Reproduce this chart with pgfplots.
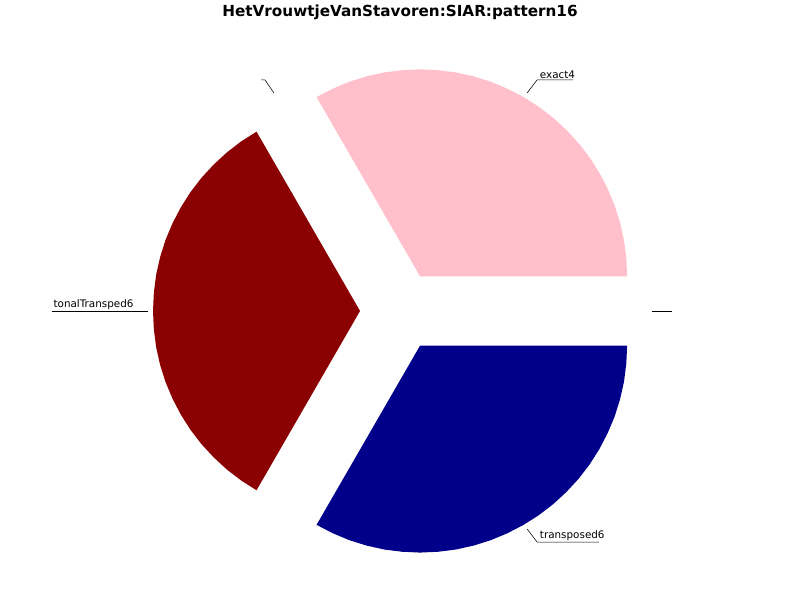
\documentclass[border=0pt]{standalone}
\usepackage{pgfplots}
\pgfplotsset{compat=1.18}
\usepackage{fontspec}
\setmainfont{DejaVu Sans}
\begin{document}
\begin{tikzpicture}
\begin{axis}[width=8in,height=6in,scale only axis,hide axis,
 xmin=-1.932,xmax=1.932,ymin=-1.396,ymax=1.502,clip=false]
% exact4: 0..120 deg, explode offset (0.097,0.167)
\addplot[fill={rgb,255:red,255;green,192;blue,203},draw=none] table[x expr=\thisrowno{0}+0.097,y expr=\thisrowno{1}+0.167]{
0 0
1 0
.996 .087
.985 .174
.966 .259
.940 .342
.906 .423
.866 .5
.819 .574
.766 .643
.707 .707
.643 .766
.574 .819
.5 .866
.423 .906
.342 .940
.259 .966
.174 .985
.087 .996
0 1
-.087 .996
-.174 .985
-.259 .966
-.342 .940
-.423 .906
-.5 .866
0 0
};
% tonalTransped6: 120..240
\addplot[fill={rgb,255:red,139;green,0;blue,0},draw=none] table[x expr=\thisrowno{0}-0.193,y expr=\thisrowno{1}]{
0 0
-.5 .866
-.574 .819
-.643 .766
-.707 .707
-.766 .643
-.819 .574
-.866 .5
-.906 .423
-.940 .342
-.966 .259
-.985 .174
-.996 .087
-1 0
-.996 -.087
-.985 -.174
-.966 -.259
-.940 -.342
-.906 -.423
-.866 -.5
-.819 -.574
-.766 -.643
-.707 -.707
-.643 -.766
-.574 -.819
-.5 -.866
0 0
};
% transposed6: 240..360
\addplot[fill={rgb,255:red,0;green,0;blue,139},draw=none] table[x expr=\thisrowno{0}+0.097,y expr=\thisrowno{1}-0.167]{
0 0
-.5 -.866
-.423 -.906
-.342 -.940
-.259 -.966
-.174 -.985
-.087 -.996
0 -1
.087 -.996
.174 -.985
.259 -.966
.342 -.940
.423 -.906
.5 -.866
.574 -.819
.643 -.766
.707 -.707
.766 -.643
.819 -.574
.866 -.5
.906 -.423
.940 -.342
.966 -.259
.985 -.174
.996 -.087
1 0
0 0
};
\addplot[black,thin] coordinates {(0.614,1.053) (0.662,1.116) (0.836,1.116)};
\addplot[black,thin] coordinates {(0.614,-1.053) (0.662,-1.116) (0.961,-1.116)};
\addplot[black,thin] coordinates {(-1.217,0) (-1.681,0)};
\addplot[black,thin] coordinates {(1.217,0) (1.314,0)};
\addplot[black,thin] coordinates {(-0.609,1.053) (-0.652,1.116) (-0.671,1.116)};
\node[anchor=south west,font=\fontsize{7.5}{8}\selectfont,inner sep=1pt] at (axis cs:0.668,1.116) {exact4};
\node[anchor=south west,font=\fontsize{7.5}{8}\selectfont,inner sep=1pt] at (axis cs:0.668,-1.116) {transposed6};
\node[anchor=south west,font=\fontsize{7.5}{8}\selectfont,inner sep=1pt] at (axis cs:-1.681,0) {tonalTransped6};
\node[font=\bfseries\fontsize{11}{13}\selectfont] at (axis cs:0,1.444) {HetVrouwtjeVanStavoren:SIAR:pattern16};
\end{axis}
\pgfresetboundingbox
\path[use as bounding box] (current axis.south west) rectangle (current axis.north east);
\end{tikzpicture}
\end{document}
